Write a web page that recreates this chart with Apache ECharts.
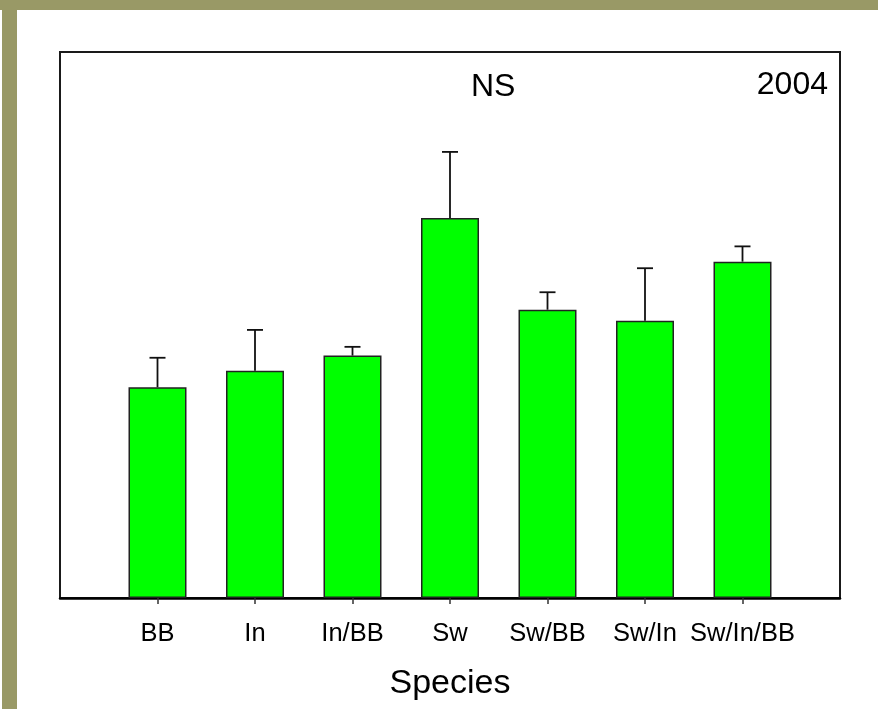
<!DOCTYPE html>
<html>
<head>
<meta charset="utf-8">
<script src="https://cdn.jsdelivr.net/npm/echarts@6/dist/echarts.min.js"></script>
<style>
html,body{margin:0;padding:0;background:#fff;}
#chart{width:878px;height:709px;}
</style>
</head>
<body>
<div id="chart"></div>
<script>
var categories = ['BB', 'In', 'In/BB', 'Sw', 'Sw/BB', 'Sw/In', 'Sw/In/BB'];
var means = [38.6, 41.6, 44.4, 69.6, 52.8, 50.8, 61.6];
var errors = [5.4, 7.5, 1.6, 12.1, 3.2, 9.6, 2.8];
var positions = [1, 2, 3, 4, 5, 6, 7];

var barData = positions.map(function (p, i) { return [p, means[i]]; });
var errData = positions.map(function (p, i) { return [p, means[i], means[i] + errors[i]]; });

var chart = echarts.init(document.getElementById('chart'), null, {renderer: 'canvas'});
var font = 'Liberation Sans, Arial, sans-serif';
chart.setOption({
  backgroundColor: '#ffffff',
  animation: false,
  graphic: [
    {type: 'rect', shape: {x: 0, y: 0, width: 878, height: 10}, style: {fill: '#999966'}, z: 100},
    {type: 'rect', shape: {x: 2, y: 0, width: 15, height: 709}, style: {fill: '#999966'}, z: 100},
    {type: 'text', left: 471, top: 71, style: {text: 'NS', font: '32px ' + font, fill: '#000'}, z: 100},
    {type: 'text', right: 50, top: 69, style: {text: '2004', font: '32px ' + font, fill: '#000'}, z: 100}
  ],
  grid: {left: 60, right: 38, top: 52, bottom: 111, show: true, borderColor: '#1a1a1a', borderWidth: 2, backgroundColor: 'transparent'},
  xAxis: {
    type: 'value', min: 0, max: 8, interval: 1,
    name: 'Species', nameLocation: 'middle', nameGap: 69,
    nameTextStyle: {fontFamily: font, fontSize: 34, color: '#000'},
    axisLine: {show: true, onZero: false, lineStyle: {color: '#000', width: 2.5}},
    axisTick: {show: true, customValues: positions, length: 6, lineStyle: {color: '#333', width: 1.5}},
    axisLabel: {customValues: positions, margin: 23, fontFamily: font, fontSize: 25.5, color: '#000',
      formatter: function (v) { var i = Math.round(v) - 1; return categories[i] || ''; }},
    splitLine: {show: false}
  },
  yAxis: {
    type: 'value', min: 0, max: 100,
    axisLine: {show: false}, axisTick: {show: false}, axisLabel: {show: false}, splitLine: {show: false}
  },
  series: [
    {
      type: 'bar', data: barData, barWidth: 58,
      itemStyle: {color: '#00ff00', borderColor: '#222', borderWidth: 1.5},
      z: 2
    },
    {
      type: 'custom', data: errData, z: 3,
      renderItem: function (params, api) {
        var x = api.value(0);
        var lo = api.coord([x, api.value(1)]);
        var hi = api.coord([x, api.value(2)]);
        var hw = 8;
        var st = {stroke: '#111', lineWidth: 1.8, fill: null};
        return {type: 'group', children: [
          {type: 'line', shape: {x1: lo[0], y1: lo[1], x2: hi[0], y2: hi[1]}, style: st},
          {type: 'line', shape: {x1: hi[0] - hw, y1: hi[1], x2: hi[0] + hw, y2: hi[1]}, style: st}
        ]};
      }
    }
  ]
});
</script>
</body>
</html>
